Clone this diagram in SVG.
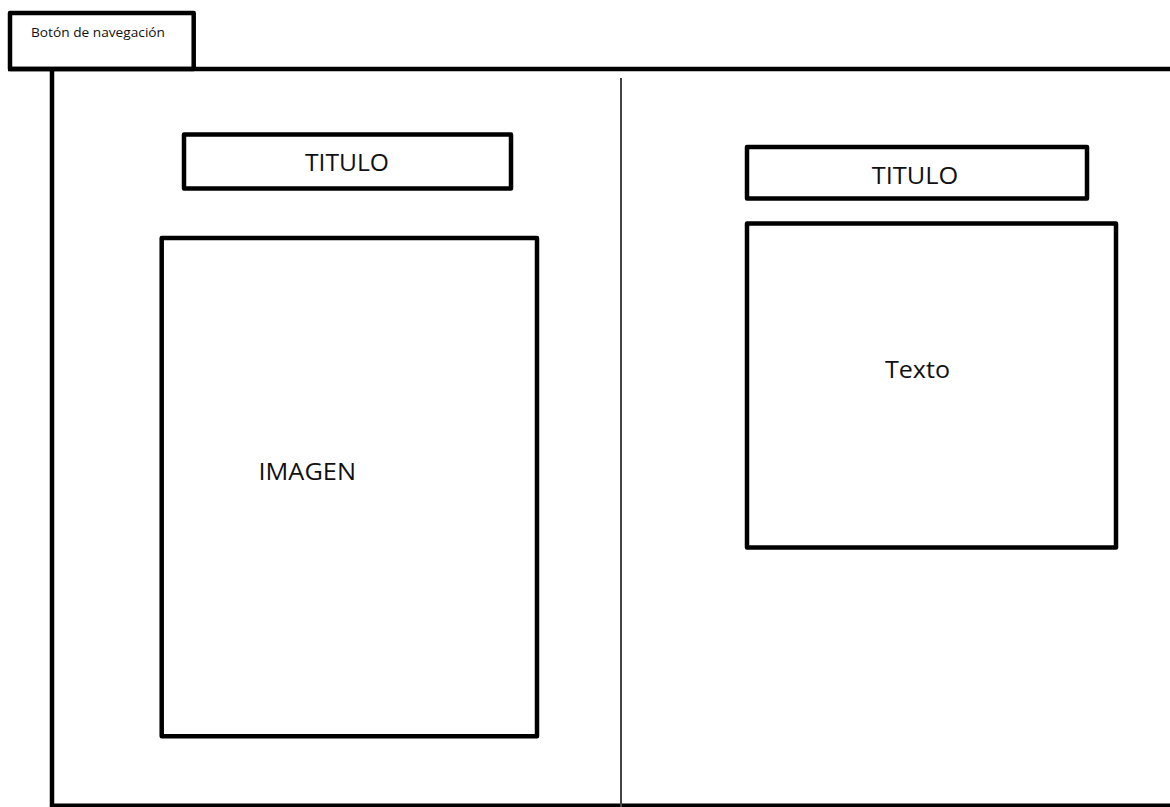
<svg xmlns="http://www.w3.org/2000/svg" width="1170" height="807" viewBox="0 0 1170 807">
<style>
.box{fill:none;stroke:#000;stroke-width:4.5;stroke-linejoin:round}
.ln{fill:none;stroke:#000;stroke-width:4.5}
.lbl{font-family:"Open Sans","Liberation Sans",sans-serif;fill:#111}
</style>
<rect width="1170" height="807" fill="#fff"/>
<g id="frame">
<line class="ln" x1="8" y1="69" x2="1170" y2="69"/>
<line class="ln" x1="52" y1="69" x2="52" y2="807"/>
<line class="ln" x1="50" y1="805.8" x2="1170" y2="805.8"/>
<line x1="621" y1="78" x2="621" y2="807" stroke="#444" stroke-width="2"/>
</g>
<g id="nav-button">
<rect class="box" x="10" y="13" width="183.7" height="56"/>
<text class="lbl" x="31" y="36.5" font-size="13.5" textLength="134" lengthAdjust="spacingAndGlyphs">Botón de navegación</text>
</g>
<g id="titulo-left">
<rect class="box" x="184" y="134.5" width="327" height="54"/>
<text class="lbl" x="347" y="170.5" font-size="24.5" text-anchor="middle" textLength="84" lengthAdjust="spacingAndGlyphs">TITULO</text>
</g>
<g id="imagen">
<rect class="box" x="161.7" y="238" width="375.3" height="498.2"/>
<text class="lbl" x="258.5" y="480" font-size="24.5" textLength="97.5" lengthAdjust="spacingAndGlyphs">IMAGEN</text>
</g>
<g id="titulo-right">
<rect class="box" x="747" y="147" width="340" height="51.5"/>
<text class="lbl" x="915" y="184.3" font-size="24.5" text-anchor="middle" textLength="86.5" lengthAdjust="spacingAndGlyphs">TITULO</text>
</g>
<g id="texto">
<rect class="box" x="747" y="223.5" width="369" height="324"/>
<text class="lbl" x="885" y="378.3" font-size="24.5" textLength="65" lengthAdjust="spacingAndGlyphs">Texto</text>
</g>
</svg>
